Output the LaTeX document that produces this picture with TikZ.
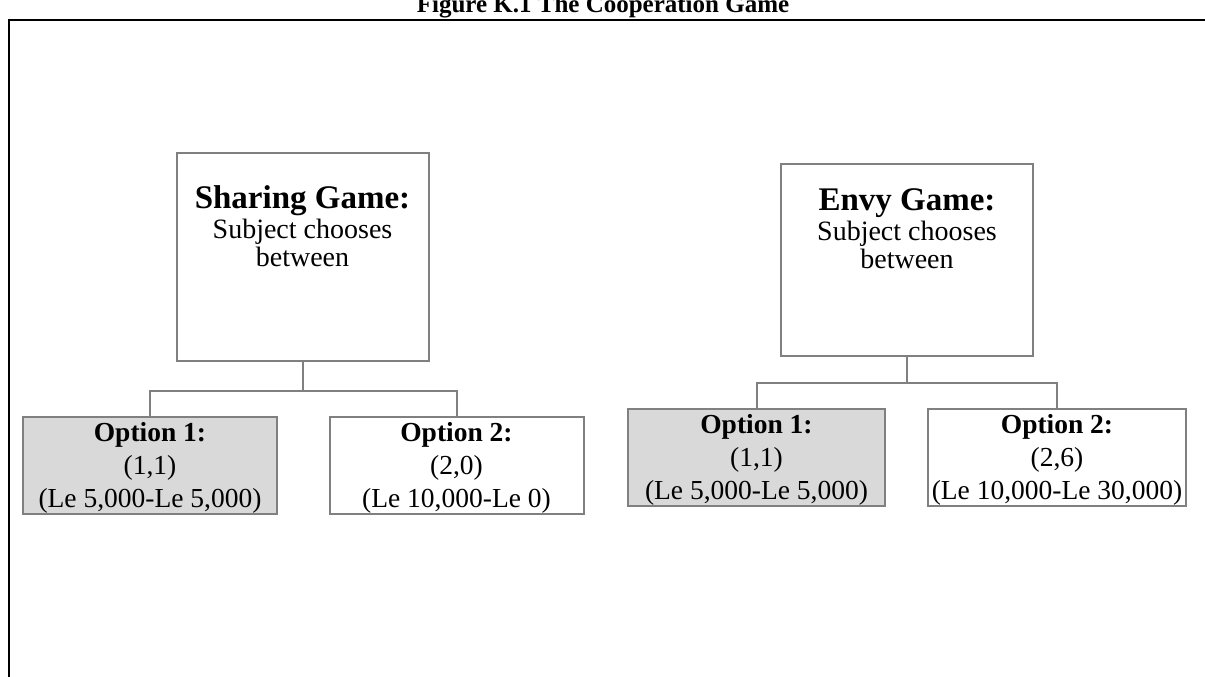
\documentclass[tikz,border=0pt]{standalone}
\usepackage{fontspec}
\setmainfont{Liberation Serif}
\definecolor{boxgray}{RGB}{128,128,128}
\definecolor{optgray}{RGB}{217,217,217}

\begin{document}
\begin{tikzpicture}[x=1pt,y=-1pt]
            \tikzstyle{every node}+=[inner sep=0pt]
            \tikzstyle{gamebox}=[draw=boxgray, line width=2pt, rectangle, align=center, minimum width=252pt, text depth=62pt, font=\fontsize{28}{28}\selectfont]
            \tikzstyle{optbox}=[draw=boxgray, line width=2pt, rectangle, align=center, minimum width=254pt, minimum height=97pt, text depth=0pt, font=\fontsize{27.5}{30}\selectfont]
            \tikzstyle{link}=[draw=boxgray, line width=2pt]
            \useasboundingbox (0,0) rectangle (1205,677);
            \node (title) [anchor=base, font=\bfseries\fontsize{25}{27}\selectfont] at (603,13) {Figure K.1 The Cooperation Game};
            \draw [black, line width=2pt] (9,677) -- (9,20) -- (1205,20);
            \node (sharing) [gamebox, minimum height=208pt] at (302.5,257) {{\bfseries\fontsize{33}{34}\selectfont Sharing Game:}\\[2pt]Subject chooses\\between};
            \node (shareA) [optbox, fill=optgray] at (150,465) {\textbf{Option 1:}\\[3pt](1,1)\\[3pt](Le 5,000-Le 5,000)};
            \node (shareB) [optbox] at (456.5,465) {\textbf{Option 2:}\\[3pt](2,0)\\[3pt](Le 10,000-Le 0)};
            \draw [link] (sharing.south) -- ++(0,29) -| (shareA.north);
            \draw [link] (sharing.south) -- ++(0,29) -| (shareB.north);
            \node (envy) [gamebox, minimum height=192pt] at (907,259.5) {{\bfseries\fontsize{33}{34}\selectfont Envy Game:}\\[2pt]Subject chooses\\between};
            \node (envyA) [optbox, fill=optgray, minimum width=257pt] at (756.5,457) {\textbf{Option 1:}\\[3pt](1,1)\\[3pt](Le 5,000-Le 5,000)};
            \node (envyB) [optbox, minimum width=258pt] at (1057,457) {\textbf{Option 2:}\\[3pt](2,6)\\[3pt](Le 10,000-Le 30,000)};
            \draw [link] (envy.south) -- ++(0,26) -| (envyA.north);
            \draw [link] (envy.south) -- ++(0,26) -| (envyB.north);
          \end{tikzpicture}
\end{document}
